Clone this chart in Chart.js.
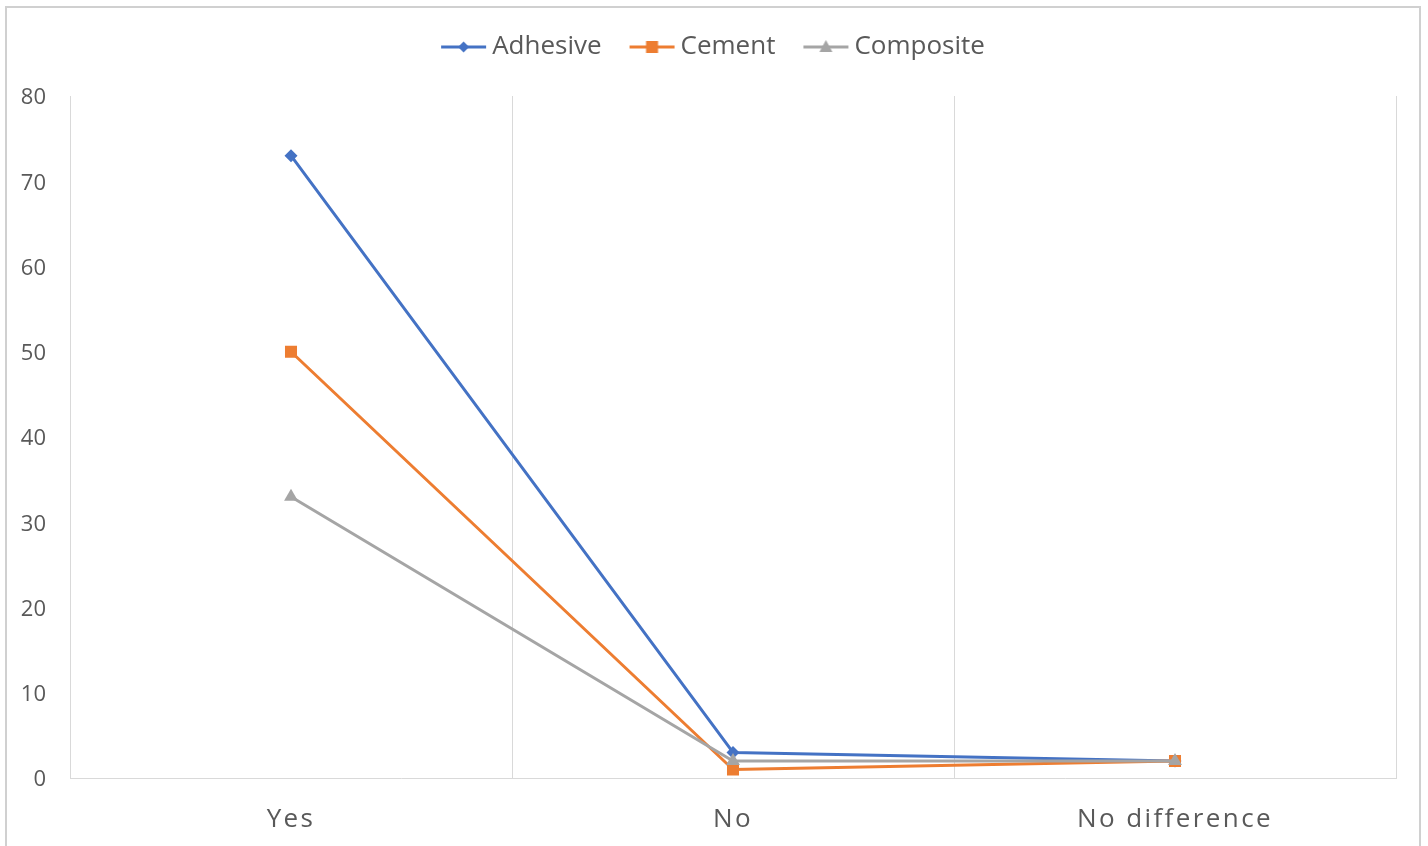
<!DOCTYPE html>
<html>
<head>
<meta charset="utf-8">
<script src="https://cdn.jsdelivr.net/npm/chart.js@4/dist/chart.umd.min.js"></script>
<style>
  html, body { margin: 0; padding: 0; background: #ffffff; overflow: hidden; }
  #wrap { position: relative; width: 1428px; height: 846px; overflow: hidden; }
  #frame {
    position: absolute; left: 5px; top: 6px; width: 1412px; height: 860px;
    border: 2px solid #d0d0d0; box-sizing: content-box; pointer-events: none;
  }
  canvas { position: absolute; left: 0; top: 0; }
</style>
</head>
<body>
<div id="wrap">
  <canvas id="chart" width="1428" height="846"></canvas>
  <div id="frame"></div>
</div>
<script>
// Categories and series values
const categories = ['Yes', 'No', 'No difference'];
const adhesive = [73, 3, 2];
const cement = [50, 1, 2];
const composite = [33, 2, 2];

// Value axis range
const yMin = 0;
const yMax = 80;
const yStep = 10;

const FONT = "'Open Sans', 'DejaVu Sans', sans-serif";
const TEXT = '#595959';
const GRID = '#d9d9d9';

const seriesStyle = [
  { label: 'Adhesive',  data: adhesive,  color: '#4472C4', marker: 'rectRot',  radius: 6.5, order: 3 },
  { label: 'Cement',    data: cement,    color: '#ED7D31', marker: 'rect',     radius: 8.5, order: 2 },
  { label: 'Composite', data: composite, color: '#A5A5A5', marker: 'triangle', radius: 8,   order: 1 }
];

// Legend swatch: a short line with the series marker in its middle
const SWATCH_BOX = 36;   // pointStyleWidth reserved by the legend
function legendSwatch(color, marker) {
  const c = document.createElement('canvas');
  c.width = 52; c.height = 18;
  const g = c.getContext('2d');
  const x0 = 6, x1 = 51, cy = 9, cx = (x0 + x1) / 2;
  g.strokeStyle = color;
  g.lineWidth = 3;
  g.beginPath(); g.moveTo(x0, cy); g.lineTo(x1, cy); g.stroke();
  g.fillStyle = color;
  g.beginPath();
  if (marker === 'rectRot') {
    g.moveTo(cx, cy - 5.5); g.lineTo(cx + 5.5, cy); g.lineTo(cx, cy + 5.5); g.lineTo(cx - 5.5, cy);
  } else if (marker === 'rect') {
    g.rect(cx - 6, cy - 6, 12, 12);
  } else {
    g.moveTo(cx, cy - 7); g.lineTo(cx + 6.5, cy + 5); g.lineTo(cx - 6.5, cy + 5);
  }
  g.closePath();
  g.fill();
  return c;
}

// Legend row: extra room below it, and centred on the full canvas width
const LEGEND_GAP = 26;
const LEGEND_SHIFT = 16;
const legendPlacement = {
  id: 'legendPlacement',
  beforeLayout(chart) {
    const lg = chart.legend;
    if (lg && !lg._placed) {
      const fit = lg.fit;
      const draw = lg.draw;
      lg.fit = function () { fit.call(this); this.height += LEGEND_GAP; };
      lg.draw = function () {
        const ctx = this.ctx;
        ctx.save();
        ctx.translate(LEGEND_SHIFT, 0);
        draw.call(this);
        ctx.restore();
      };
      lg._placed = true;
    }
  }
};

// Slightly tracked category labels
const X_LETTER_SPACING = '2.4px';
const categorySpacing = {
  id: 'categorySpacing',
  beforeDraw(chart) {
    const xs = chart.scales.x;
    if (xs && !xs._spaced) {
      const draw = xs.drawLabels;
      xs.drawLabels = function (area) {
        const ctx = this.ctx;
        ctx.save();
        ctx.letterSpacing = X_LETTER_SPACING;
        draw.call(this, area);
        ctx.restore();
      };
      xs._spaced = true;
    }
  }
};

new Chart(document.getElementById('chart'), {
  type: 'line',
  data: {
    labels: categories,
    datasets: seriesStyle.map(s => ({
      label: s.label,
      data: s.data,
      borderColor: s.color,
      backgroundColor: s.color,
      borderWidth: 3,
      borderJoinStyle: 'round',
      borderCapStyle: 'round',
      pointStyle: s.marker,
      pointRadius: s.radius,
      pointHoverRadius: s.radius,
      pointBackgroundColor: s.color,
      pointBorderColor: s.color,
      pointBorderWidth: 0,
      tension: 0,
      fill: false,
      order: s.order
    }))
  },
  options: {
    responsive: false,
    animation: false,
    layout: { padding: { top: 4, right: 32, bottom: 0, left: 0 } },
    plugins: {
      tooltip: { enabled: false },
      legend: {
        position: 'top',
        align: 'center',
        labels: {
          usePointStyle: true,
          pointStyleWidth: SWATCH_BOX,
          padding: 30,
          color: TEXT,
          font: { family: FONT, size: 26 },
          generateLabels(chart) {
            return chart.data.datasets.map((ds, i) => ({
              text: ds.label,
              fillStyle: ds.borderColor,
              strokeStyle: ds.borderColor,
              lineWidth: 0,
              pointStyle: legendSwatch(ds.borderColor, ds.pointStyle),
              fontColor: TEXT,
              hidden: false,
              datasetIndex: i
            }));
          }
        }
      }
    },
    scales: {
      x: {
        type: 'category',
        offset: true,
        grid: { display: true, offset: true, color: GRID, lineWidth: 1, drawTicks: false },
        border: { display: true, color: GRID, width: 1 },
        ticks: { color: TEXT, font: { family: FONT, size: 26 }, padding: 26, maxRotation: 0 },
        afterFit(scale) { scale.height = 68; }
      },
      y: {
        min: yMin,
        max: yMax,
        grid: { display: false, drawTicks: false },
        border: { display: false },
        ticks: { stepSize: yStep, color: TEXT, font: { family: FONT, size: 22 }, padding: 24, labelOffset: 2 },
        afterFit(scale) { scale.width = 70; }
      }
    }
  },
  plugins: [legendPlacement, categorySpacing]
});
</script>
</body>
</html>
